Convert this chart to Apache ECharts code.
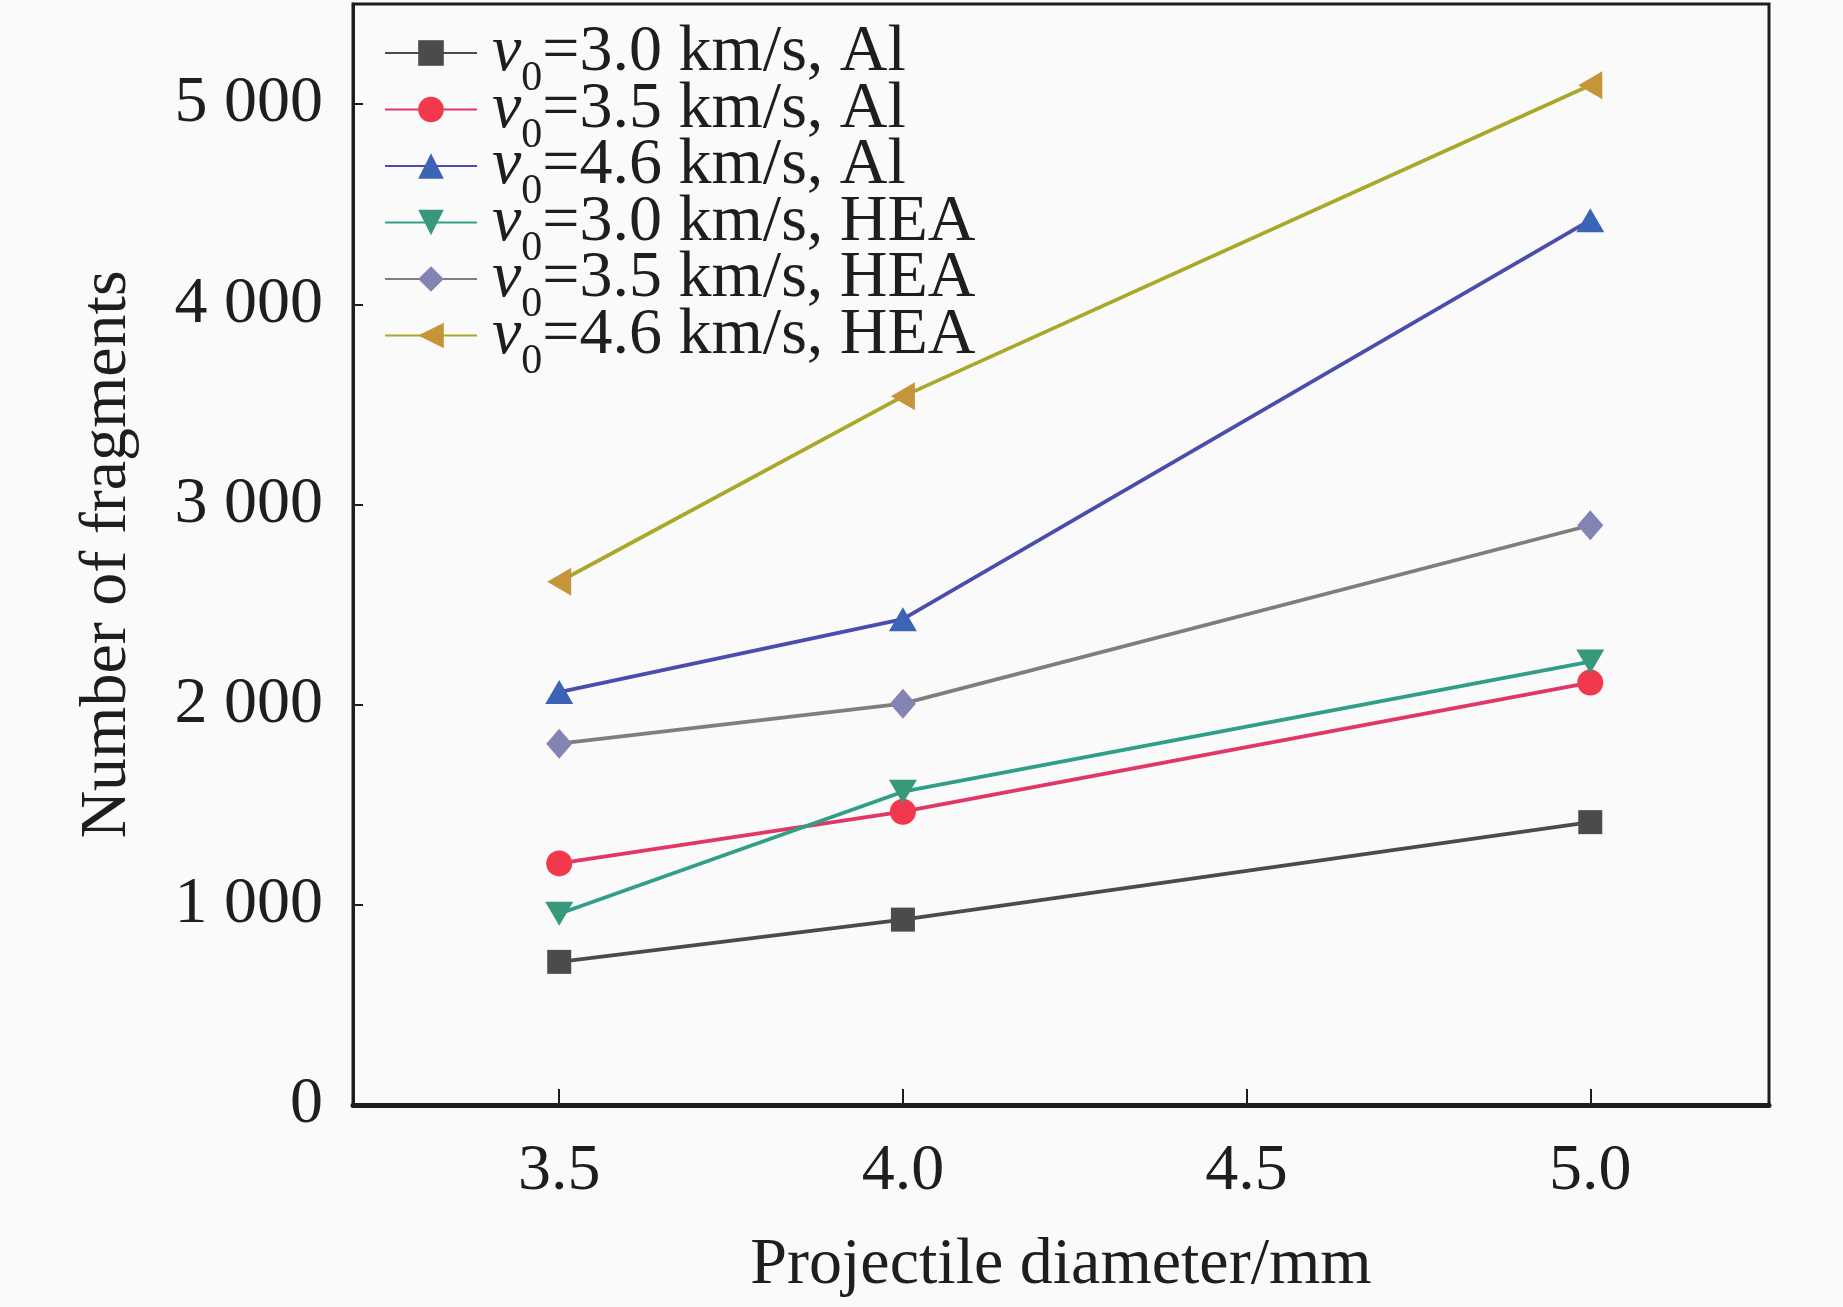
<!DOCTYPE html>
<html>
<head>
<meta charset="utf-8">
<script src="https://cdn.jsdelivr.net/npm/echarts@6/dist/echarts.min.js"></script>
<style>
  html, body { margin: 0; padding: 0; background: #fafafa; }
  #chart { width: 1843px; height: 1307px; }
</style>
</head>
<body>
<div id="chart"></div>
<script>
// projectile diameter (mm)
const diameters = [3.5, 4.0, 5.0]
const xTicks = [3.5, 4.0, 4.5, 5.0]
const yTicks = [0, 1000, 2000, 3000, 4000, 5000]

// number of fragments
const al30 = [715, 926, 1413]
const al35 = [1207, 1465, 2110]
const al46 = [2063, 2427, 4420]
const hea30 = [955, 1565, 2215]
const hea35 = [1805, 2005, 2896]
const hea46 = [2614, 3540, 5094]

const seriesNames = [
  "v0=3.0 km/s, Al", "v0=3.5 km/s, Al", "v0=4.6 km/s, Al",
  "v0=3.0 km/s, HEA", "v0=3.5 km/s, HEA", "v0=4.6 km/s, HEA"
]

const chart = echarts.init(document.getElementById("chart"))
const font = "Liberation Serif"
const ink = "#1e1e1e"

function makeSeries(name, values, symbol, markerColor, lineColor, opts) {
  return Object.assign({
    name: name,
    type: "line",
    data: diameters.map((d, i) => [d, values[i]]),
    symbol: symbol,
    symbolSize: 26,
    showAllSymbol: true,
    itemStyle: { color: markerColor },
    lineStyle: { color: lineColor, width: 3.8 },
    z: 3
  }, opts || {})
}

// 千位用空格分隔
const thousands = (v) => String(v).replace(/\B(?=(\d{3})+(?!\d))/g, " ")

chart.setOption({
  backgroundColor: "#fafafa",
  animation: false,
  grid: {
    left: 353, right: 74, top: 4, bottom: 202,
    show: true, borderColor: ink, borderWidth: 3, backgroundColor: "transparent"
  },
  legend: {
    left: 384, top: 20, orient: "vertical",
    padding: 0, itemGap: -23.5, itemWidth: 92, itemHeight: 32,
    data: seriesNames,
    formatter: (name) => {
      const rest = name.slice(2)
      return "{it|v}{sub|0}{t|" + rest + "}"
    },
    textStyle: {
      color: ink, fontFamily: font, fontSize: 66,
      rich: {
        it: { fontFamily: font, fontSize: 66, fontStyle: "italic", color: ink, lineHeight: 50, padding: [0, 0, 0, 10] },
        sub: { fontFamily: font, fontSize: 42, color: ink, lineHeight: 50, verticalAlign: "bottom", padding: [0, 0, -22, 0] },
        t: { fontFamily: font, fontSize: 66, color: ink, lineHeight: 50 }
      }
    }
  },
  xAxis: {
    type: "value", min: 3.2, max: 5.26,
    name: "Projectile diameter/mm", nameLocation: "middle", nameGap: 128,
    nameTextStyle: { fontFamily: font, fontSize: 66, color: ink },
    axisLine: { show: true, lineStyle: { color: ink, width: 5 } },
    axisTick: { show: true, inside: true, length: 16, lineStyle: { color: ink, width: 2 }, customValues: xTicks },
    axisLabel: { fontFamily: font, fontSize: 66, color: ink, margin: 34, customValues: xTicks, formatter: (v) => v.toFixed(1) },
    splitLine: { show: false }
  },
  yAxis: {
    type: "value", min: 0, max: 5500,
    name: "Number of fragments", nameLocation: "middle", nameGap: 212, nameRotate: 90,
    nameTextStyle: { fontFamily: font, fontSize: 66, color: ink },
    axisLine: { show: true, lineStyle: { color: ink, width: 3 } },
    axisTick: { show: true, inside: true, length: 10, lineStyle: { color: ink, width: 2 }, customValues: yTicks },
    axisLabel: { fontFamily: font, fontSize: 66, color: ink, margin: 30, customValues: yTicks, formatter: thousands },
    splitLine: { show: false }
  },
  series: [
    makeSeries(seriesNames[0], al30, "rect", "#4b4b4b", "#4b4b4b", { symbolSize: 24 }),
    makeSeries(seriesNames[1], al35, "circle", "#f2384c", "#e23766"),
    makeSeries(seriesNames[2], al46, "triangle", "#3b63b6", "#4a4cae", { symbolSize: [28, 24] }),
    makeSeries(seriesNames[3], hea30, "triangle", "#37997a", "#2f9f88", { symbolRotate: 180, symbolSize: [28, 24] }),
    makeSeries(seriesNames[4], hea35, "diamond", "#8383b4", "#7e7e7e", { symbolSize: [26, 30] }),
    makeSeries(seriesNames[5], hea46, "triangle", "#c6953a", "#aaa82a", { symbolRotate: 90, symbolSize: [28, 24] })
  ]
})
</script>
</body>
</html>
